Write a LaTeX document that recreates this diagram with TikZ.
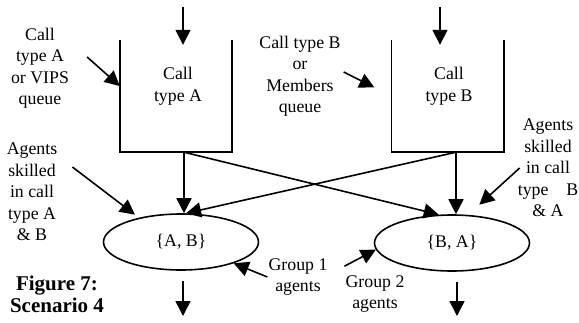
\documentclass[tikz,border=0pt]{standalone}
\usepackage{fontspec}
\setmainfont{Liberation Serif}
\usetikzlibrary{arrows.meta, shapes.geometric}

\begin{document}
\begin{tikzpicture}[
    x=1pt, y=-1pt, >={Triangle[length=15pt,width=15pt]},
    txt/.style={align=center, font=\fontsize{17.8}{21.5}\selectfont, inner sep=1pt},
    queue/.style={minimum width=112pt, minimum height=112pt, inner sep=0pt},
    wall/.style={line width=1.6pt},
    agentset/.style={ellipse, draw, line width=1.6pt, minimum width=155pt,
      minimum height=56pt, inner sep=0pt, font=\fontsize{17.8}{21.5}\selectfont},
    arr/.style={->, line width=1.6pt},
    figcap/.style={align=center, font=\fontsize{21}{22}\selectfont\bfseries}
  ]
  \useasboundingbox (0,0) rectangle (579,322);

  % queues
  \node[queue] (qa) at (176,96) {};
  \node[queue] (qb) at (447.5,96) {};
  \draw[wall] (qa.north west) -- (qa.south west) -- (qa.south east) -- (qa.north east);
  \draw[wall] (qb.north west) -- (qb.south west) -- (qb.south east) -- (qb.north east);
  \node[txt] (qatxt) at (178,86) {Call\\type A};
  \node[txt] (qbtxt) at (449,86) {Call\\type B};

  % agent groups
  \node[agentset] (ea) at (181,242) {\{A, B\}};
  \node[agentset] (eb) at (452,243) {\{B, A\}};

  % labels
  \node[txt] (la1) at (40,68) {Call\\type A\\or VIPS\\queue};
  \node[txt] (lb1) at (300,76) {Call type B\\or\\Members\\queue};
  \node[txt] (la2) at (32,192) {Agents\\skilled\\in call\\type A\\\& B};
  \node[txt] (lb2) at (548,168) {Agents\\skilled\\in call\\type\quad B\\\& A};
  \node[txt] (g1) at (298,277) {Group 1\\agents};
  \node[txt] (g2) at (375,294) {Group 2\\agents};
  \node[figcap] (fig) at (57,294) {Figure 7:\\Scenario 4};

  % arrivals and departures
  \coordinate (ina) at (183,7);
  \coordinate (inb) at (440,7);
  \coordinate (outa) at (183,316);
  \coordinate (outb) at (457,316);
  \draw[arr, shorten >=-5pt] (ina) -- (ina |- qa.north);
  \draw[arr, shorten >=-5pt] (inb) -- (inb |- qb.north);
  \draw[arr, shorten <=10pt] (ea.south -| outa) -- (outa);
  \draw[arr, shorten <=10pt] (eb.south -| outb) -- (outb);

  % routing
  \coordinate (qaout) at ([xshift=8pt]qa.south);
  \coordinate (qbout) at ([xshift=8.5pt]qb.south);
  \draw[arr] (qaout) -- (qaout |- ea.north);
  \draw[arr] (qbout) -- (qbout |- eb.north);
  \draw[arr] (qaout) -- (eb.115);
  \draw[arr] (qbout) -- (ea.80);

  % pointers
  \draw[arr] ([xshift=17pt,yshift=11pt]la1.east) -- (qa.170);
  \draw[arr, shorten >=19pt] ([xshift=2pt,yshift=4pt]lb1.east) -- (qb.west);
  \draw[arr, shorten >=5pt] ([xshift=14pt,yshift=25pt]la2.east) -- (ea.150);
  \draw[arr, shorten >=15pt] ([xshift=3pt]lb2.west) -- (eb.60);
  \draw[arr] (g1.west) -- (ea.-22);
  \draw[arr] ([yshift=8pt]g2.north west) -- (eb.185);
\end{tikzpicture}
\end{document}
